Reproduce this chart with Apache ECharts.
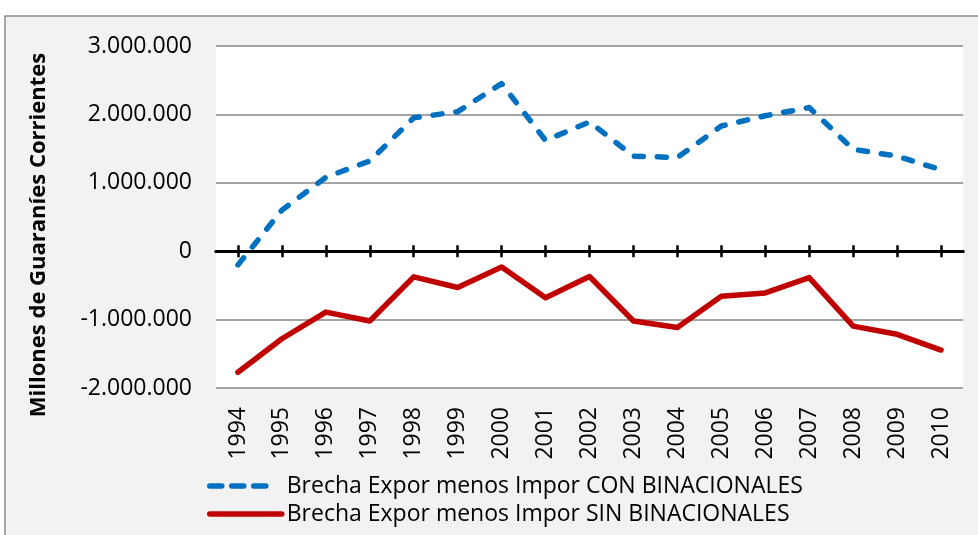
<!DOCTYPE html>
<html>
<head>
<meta charset="utf-8">
<script src="https://cdn.jsdelivr.net/npm/echarts@6/dist/echarts.min.js"></script>
<style>
html,body{margin:0;padding:0;background:#fff;}
#c{width:978px;height:535px;}
</style>
</head>
<body>
<div id="c"></div>
<script>
var years = ['1994','1995','1996','1997','1998','1999','2000','2001','2002','2003','2004','2005','2006','2007','2008','2009','2010'];
var conBinacionales = [-200000, 600000, 1080000, 1320000, 1950000, 2040000, 2450000, 1620000, 1890000, 1390000, 1370000, 1830000, 1980000, 2100000, 1490000, 1390000, 1190000];
var sinBinacionales = [-1770000, -1280000, -890000, -1020000, -375000, -530000, -230000, -680000, -370000, -1020000, -1115000, -660000, -610000, -385000, -1095000, -1215000, -1445000];
var seriesNames = ['Brecha Expor menos Impor CON BINACIONALES', 'Brecha Expor menos Impor SIN BINACIONALES'];
var yAxisTitle = 'Millones de Guaraníes Corrientes';
var yMin = -2000000, yMax = 3000000, yStep = 1000000;

function fmt(v){
  var neg = v < 0; var s = String(Math.abs(Math.round(v)));
  s = s.replace(/\B(?=(\d{3})+(?!\d))/g, '.');
  return (neg ? '-' : '') + s;
}

var chart = echarts.init(document.getElementById('c'), null, {renderer:'canvas'});
var font = '"Open Sans", "Noto Sans", sans-serif';
var gridRect = {left:216, right:15, top:46, bottom:147, containLabel:false, outerBoundsMode:'none'};
chart.setOption({
  animation:false,
  textStyle:{fontFamily:font},
  graphic:{elements:[
    {type:'rect', z:-100, silent:true, shape:{x:5, y:16, width:1100, height:700}, style:{fill:'#f2f2f2', stroke:'#8c8c8c', lineWidth:1.5}},
    {type:'text', z:100, x:39, y:235, rotation:Math.PI/2, style:{text:yAxisTitle, fill:'#000', font:'bold 22px ' + font, textAlign:'center', textVerticalAlign:'middle'}}
  ]},
  grid:[
    Object.assign({show:true, backgroundColor:'#fff', borderWidth:0}, gridRect),
    Object.assign({show:false}, gridRect)
  ],
  legend:{
    orient:'vertical', left:207, top:473, padding:0, itemWidth:72, itemHeight:14, itemGap:2,
    textStyle:{fontSize:23, color:'#000', fontFamily:font, lineHeight:26},
    itemStyle:{opacity:0},
    data:[
      {name:seriesNames[0], lineStyle:{color:'#0070c0', width:5.5, type:[12,10,12,10,12,60], cap:'round'}},
      {name:seriesNames[1], lineStyle:{color:'#c00000', width:5.5, type:'solid', cap:'round'}}
    ]
  },
  xAxis:[
    {gridIndex:0, type:'category', data:years, boundaryGap:true, position:'bottom',
     axisLine:{show:false, onZero:false}, axisTick:{show:false},
     axisLabel:{show:true, rotate:90, margin:19, fontSize:23, color:'#000', fontFamily:font},
     splitLine:{show:false}},
    {gridIndex:0, type:'category', data:years, boundaryGap:true, position:'top',
     axisLine:{show:true, onZero:true, lineStyle:{color:'#000', width:3}},
     axisTick:{show:true, alignWithLabel:true, length:6, lineStyle:{color:'#000', width:2.5}},
     axisLabel:{show:false}, splitLine:{show:false}},
    {gridIndex:1, type:'category', data:years, boundaryGap:true, position:'bottom',
     axisLine:{show:true, onZero:true, lineStyle:{color:'#000', width:3}},
     axisTick:{show:true, alignWithLabel:true, length:6, lineStyle:{color:'#000', width:2.5}},
     axisLabel:{show:false}, splitLine:{show:false}}
  ],
  yAxis:[
    {gridIndex:0, type:'value', min:yMin, max:yMax, interval:yStep,
     axisLine:{show:false}, axisTick:{show:false},
     axisLabel:{formatter:fmt, fontSize:23, color:'#000', margin:24, fontFamily:font},
     splitLine:{show:true, lineStyle:{color:'#868686', width:1.5}}},
    {gridIndex:1, type:'value', min:yMin, max:yMax, interval:yStep, show:false,
     axisLine:{show:false}, axisTick:{show:false}, axisLabel:{show:false}, splitLine:{show:false}}
  ],
  series:[
    {name:seriesNames[0], type:'line', data:conBinacionales, xAxisIndex:0, yAxisIndex:0, symbol:'none', z:3,
     lineStyle:{color:'#0070c0', width:5.5, type:[9,14], cap:'round', join:'round'}, itemStyle:{color:'#0070c0'}},
    {name:seriesNames[1], type:'line', data:sinBinacionales, xAxisIndex:0, yAxisIndex:0, symbol:'none', z:3,
     lineStyle:{color:'#c00000', width:5.5, type:'solid', cap:'round', join:'round'}, itemStyle:{color:'#c00000'}}
  ]
});
</script>
</body>
</html>
